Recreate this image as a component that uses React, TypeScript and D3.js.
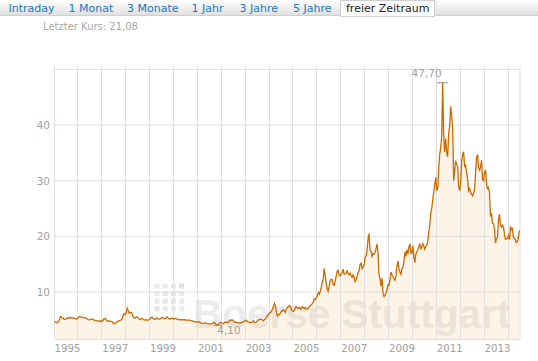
import React from "react";
import * as d3 from "d3";

// Semi-monthly closing prices (1st and 16th of each month)
const prices1995_1999 = [
  4.78,4.70,4.62,4.45,4.50,4.62,4.95,5.60,5.55,5.30,5.25,5.05,5.10,5.20,5.35,5.28,5.40,5.45,5.30,5.35,5.25,5.30,5.20,5.15,
  5.20,5.45,5.60,5.55,5.50,5.45,5.40,5.35,5.38,5.30,5.15,5.05,5.00,5.05,5.10,5.15,5.05,4.90,4.88,4.85,4.82,4.78,4.80,4.75,
  4.80,4.75,5.05,5.20,5.25,5.05,4.75,4.80,4.78,4.75,4.72,4.65,4.40,4.30,4.45,4.50,4.65,4.75,4.80,4.95,4.95,5.20,5.75,6.10,
  5.95,6.25,7.10,6.65,6.20,6.30,6.35,6.15,5.50,5.35,5.30,5.45,5.55,5.40,5.15,5.05,5.25,5.20,5.05,5.00,4.95,5.05,4.90,4.95,
  5.05,5.15,5.45,5.50,5.30,5.15,5.05,5.20,5.35,5.20,5.10,5.15,5.25,5.40,5.35,5.25,5.20,5.30,5.50,5.35,5.20,5.15,5.20,5.30,
];
const prices2000_2004 = [
  5.25,5.15,5.20,5.25,5.10,5.05,5.05,5.00,5.05,4.98,5.00,5.05,5.00,4.95,4.92,4.95,4.95,4.90,4.85,4.80,4.75,4.70,4.65,4.62,
  4.60,4.65,4.62,4.55,4.45,4.40,4.35,4.38,4.45,4.40,4.35,4.30,4.25,4.22,4.25,4.30,4.35,4.55,4.45,4.25,4.15,4.10,4.20,4.45,
  4.55,4.35,4.30,4.40,4.55,4.60,4.55,4.50,4.65,4.85,5.00,4.90,4.95,4.75,4.55,4.60,4.55,4.50,4.45,4.40,4.50,4.55,4.60,4.70,
  4.75,4.85,4.90,4.65,4.60,4.50,4.50,4.60,4.65,4.80,4.55,4.55,4.60,4.85,5.05,5.00,5.15,5.05,4.95,4.85,5.05,5.15,5.45,5.75,
  5.95,6.30,6.30,6.60,6.90,7.40,7.95,7.50,6.30,5.70,6.00,5.90,6.25,6.60,6.55,6.80,6.65,6.35,7.05,7.20,7.40,7.55,7.40,6.80,
];
const prices2005_2009 = [
  6.60,6.55,6.75,7.25,7.35,7.15,7.05,7.20,6.95,7.05,7.35,7.10,7.00,7.20,7.00,6.90,7.10,7.35,7.55,7.70,7.95,8.25,8.80,8.70,
  8.95,9.35,9.90,9.60,10.10,10.75,11.80,12.40,14.20,13.00,11.50,10.50,10.10,11.00,12.10,12.30,12.20,11.30,11.20,12.00,12.90,13.80,13.90,13.00,
  12.90,13.20,13.50,14.10,13.20,13.20,13.40,13.80,13.40,13.10,13.40,13.00,12.60,13.10,12.80,11.90,12.20,12.80,13.50,13.80,15.00,15.20,14.20,14.50,
  14.90,16.20,16.50,17.60,19.50,20.50,17.50,17.40,16.40,16.90,16.80,17.00,17.80,18.60,17.10,13.10,12.40,11.00,12.50,9.80,9.20,9.40,9.80,10.50,
  11.30,11.20,12.30,13.60,13.20,12.80,12.40,12.10,12.80,14.50,15.60,14.20,13.60,13.20,14.20,14.40,15.60,17.20,16.40,17.60,16.80,18.10,18.70,17.00,
];
const prices2010_2014 = [
  17.00,18.30,16.20,15.30,16.80,17.20,17.60,18.20,18.60,17.80,18.10,18.70,18.30,17.70,18.20,18.40,19.20,20.80,22.00,24.30,25.10,26.70,27.90,29.40,
  30.60,28.20,28.80,32.50,34.80,35.80,38.00,47.70,38.50,35.20,37.60,35.00,34.30,38.40,39.90,43.40,41.60,39.50,30.00,31.80,33.60,33.00,32.60,29.00,
  28.20,29.80,33.60,34.80,35.20,32.60,32.80,31.40,30.40,28.20,28.60,27.90,27.60,27.30,27.80,28.40,31.60,34.40,34.60,32.40,31.90,32.60,33.70,30.20,
  30.00,31.60,31.80,29.40,28.60,28.80,27.80,23.60,24.20,22.40,22.30,21.40,18.80,19.60,19.80,23.00,24.00,22.00,21.70,22.00,21.60,20.40,19.50,19.60,
  19.60,20.20,19.40,21.80,21.20,21.40,19.80,19.70,19.40,18.90,19.00,19.80,21.08,
];

const tabLabels = ["Intraday", "1 Monat", "3 Monate", "1 Jahr", "3 Jahre", "5 Jahre", "freier Zeitraum"];
const tabX = [8.5, 68.5, 127, 191.5, 239.5, 293, 346];
const yTicks = [10, 20, 30, 40];
const gridYValues = [10, 20, 30, 40, 50];
const xLabelYears = [1995, 1997, 1999, 2001, 2003, 2005, 2007, 2009, 2011, 2013];
const gridYears = d3.range(1996, 2015);
const lastPriceText = "Letzter Kurs: 21,08";

const allPrices = [...prices1995_1999, ...prices2000_2004, ...prices2005_2009, ...prices2010_2014];
const series = allPrices.map((v, i) => ({
  date: new Date(1995, Math.floor(i / 2), i % 2 === 0 ? 1 : 16),
  value: v,
}));

const W = 538;
const H = 361;
const plotLeft = 54.5;
const plotRight = 520;
const plotTop = 66;
const plotBottom = 339;

const LINE = "#cc6a00";
const GRID = "#dfdfdf";
const LABEL = "#a0a0a0";
const FONT = "DejaVu Sans, Verdana, sans-serif";

export default function App() {
  const x = d3
    .scaleTime()
    .domain([new Date(1995, 0, 1), new Date(2014, 0, 1)])
    .range([53.5, 507.5]);
  const y = d3.scaleLinear().domain([10, 50]).range([292, 69.5]);

  const line = d3
    .line<{ date: Date; value: number }>()
    .x((d) => x(d.date))
    .y((d) => y(d.value));
  const area = d3
    .area<{ date: Date; value: number }>()
    .x((d) => x(d.date))
    .y0(plotBottom)
    .y1((d) => y(d.value));

  const maxIdx = d3.maxIndex(series, (d) => d.value);
  const minIdx = d3.minIndex(series, (d) => d.value);
  const maxP = series[maxIdx];
  const minP = series[minIdx];
  const fmt = (v: number) => v.toFixed(2).replace(".", ",");

  const dotShades = [
    "#ececec", "#ececec", "#e9e9e9", "#e2e2e2",
    "#ececec", "#e6e6e6", "#e6e6e6", "#e9e9e9",
    "#e9e9e9", "#e6e6e6", "#e4e4e4", "#e9e9e9",
    "#e4e4e4", "#e9e9e9", "#e9e9e9", "#ececec",
  ];

  return (
    <div style={{ position: "absolute", left: 0, top: 0 }}>
      <svg width={W} height={H} style={{ display: "block" }} fontFamily={FONT}>
        <defs>
          <linearGradient id="tabbar" x1="0" y1="0" x2="0" y2="1">
            <stop offset="0" stopColor="#ffffff" />
            <stop offset="1" stopColor="#dedede" />
          </linearGradient>
          <clipPath id="plotclip">
            <rect x={plotLeft} y={plotTop} width={plotRight - plotLeft} height={plotBottom - plotTop} />
          </clipPath>
        </defs>
        <rect x={0} y={0} width={W} height={H} fill="#ffffff" />

        {/* tab bar */}
        <rect x={0} y={0} width={W} height={16} fill="url(#tabbar)" />
        <line x1={0} x2={W} y1={15.5} y2={15.5} stroke="#cfcfcf" />
        <rect x={340.5} y={0.5} width={94} height={16} fill="#ffffff" stroke="#cfcfcf" />
        <line x1={436} x2={436} y1={1} y2={16} stroke="#e6e6e6" />
        {tabLabels.map((t, i) => (
          <text
            key={t}
            x={tabX[i]}
            y={12}
            fontSize={11}
            fill={i === tabLabels.length - 1 ? "#222222" : "#1a78c2"}
          >
            {t}
          </text>
        ))}

        <text x={43} y={30} fontSize={10} fill="#a8a8a8">
          {lastPriceText}
        </text>

        {/* watermark */}
        <g>
          {dotShades.map((c, i) => (
            <rect
              key={i}
              x={154.5 + (i % 4) * 8.2}
              y={283.5 + Math.floor(i / 4) * 7.6}
              width={5}
              height={5}
              fill={c}
            />
          ))}
          <text x={193} y={328} fontSize={40.5} fontWeight="bold" fontFamily="Liberation Sans, Arial, sans-serif" fill="#ececec">
            Boerse Stuttgart
          </text>
        </g>

        {/* area */}
        <path d={area(series) ?? ""} fill="rgb(238,165,70)" fillOpacity={0.13} clipPath="url(#plotclip)" />

        {/* grid */}
        {gridYValues.map((v) => (
          <line key={v} x1={plotLeft} x2={plotRight} y1={y(v)} y2={y(v)} stroke={GRID} />
        ))}
        {gridYears.map((yr) => {
          const gx = Math.round(x(new Date(yr, 0, 1))) + 0.5;
          return <line key={yr} x1={gx} x2={gx} y1={plotTop} y2={plotBottom} stroke={GRID} />;
        })}
        <line x1={plotLeft} x2={plotLeft} y1={plotTop} y2={plotBottom} stroke={GRID} />
        <line x1={plotRight} x2={plotRight} y1={plotTop} y2={plotBottom} stroke={GRID} />
        <line x1={plotLeft} x2={plotRight} y1={plotBottom + 0.5} y2={plotBottom + 0.5} stroke={GRID} />

        {/* price line */}
        <path d={line(series) ?? ""} fill="none" stroke={LINE} strokeWidth={1.3} clipPath="url(#plotclip)" />

        {/* extremes */}
        <line x1={x(maxP.date) - 5.5} x2={x(maxP.date) + 5.5} y1={y(maxP.value) + 0.5} y2={y(maxP.value) + 0.5} stroke="#8c8c8c" />
        <text x={x(maxP.date) - 1} y={76.5} fontSize={10.5} fill={LABEL} textAnchor="end">
          {fmt(maxP.value)}
        </text>
        <line x1={x(minP.date) - 4} x2={x(minP.date) + 4} y1={y(minP.value) + 0.5} y2={y(minP.value) + 0.5} stroke="#8c8c8c" />
        <text x={x(minP.date) - 0.5} y={333.5} fontSize={10.5} fill={LABEL}>
          {fmt(minP.value)}
        </text>

        {/* y labels */}
        {yTicks.map((v) => (
          <text key={v} x={50} y={y(v)} dy="0.36em" fontSize={10.5} fill={LABEL} textAnchor="end">
            {v}
          </text>
        ))}

        {/* x labels */}
        {xLabelYears.map((yr) => (
          <text key={yr} x={x(new Date(yr, 0, 1)) + 1} y={351.5} fontSize={10.2} fill={LABEL}>
            {yr}
          </text>
        ))}
      </svg>
    </div>
  );
}
